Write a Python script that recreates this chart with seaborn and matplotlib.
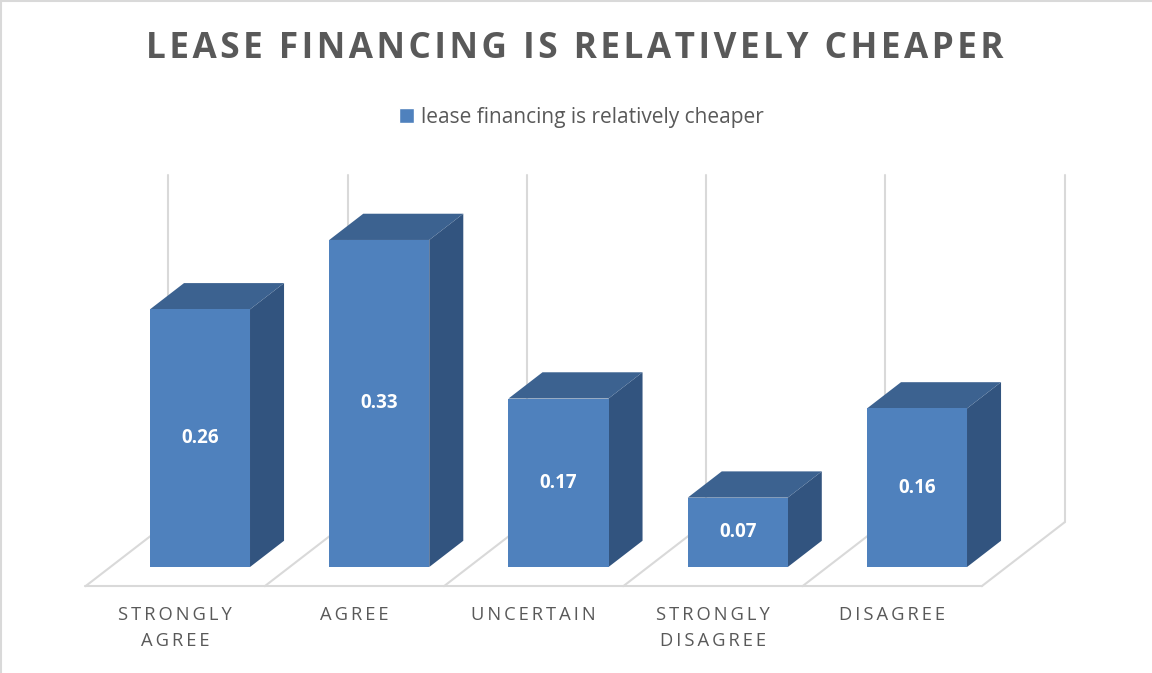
import matplotlib
matplotlib.use("Agg")
import matplotlib.pyplot as plt
from matplotlib.patches import Polygon, Patch
from matplotlib.lines import Line2D
import seaborn as sns

# data
categories = ["STRONGLY\nAGREE", "AGREE", "UNCERTAIN", "STRONGLY\nDISAGREE", "DISAGREE"]
values = [0.26, 0.33, 0.17, 0.07, 0.16]
series_name = "lease financing is relatively cheaper"
title = "LEASE FINANCING IS RELATIVELY CHEAPER"

front_col = "#4F81BD"
top_col = "#3C6290"
side_col = "#32547F"
grid_col = "#D9D9D9"
text_col = "#595959"

sns.set_theme(style="white")
plt.rcParams["font.family"] = ["Open Sans", "DejaVu Sans"]


def spaced(s, sep="\u2009"):
    # fake letter spacing with thin spaces
    return "\n".join(sep.join(line) for line in s.split("\n"))


fig = plt.figure(figsize=(11.52, 6.73), dpi=100)
ax = fig.add_axes([0, 0, 1, 1])

df = {"cat": categories, "val": values}
sns.barplot(x="cat", y="val", data=df, color=front_col, saturation=1,
            width=0.558, ax=ax, zorder=3, linewidth=0)

# fake 3d geometry (depth vector of the floor, bars sit in the middle of it)
dep_x, dep_y = 0.463, 0.0646
f0, f1 = 0.30, 0.71
n = len(categories)

# floor and back wall lines
fx0 = -f0 * dep_x
fy0 = -f0 * dep_y
bounds = [k - 0.5 + fx0 for k in range(n + 1)]
ax.plot([bounds[0], bounds[-1]], [fy0, fy0], color=grid_col, lw=1.5, zorder=0)
for b in bounds:
    ax.plot([b, b + dep_x], [fy0, fy0 + dep_y], color=grid_col, lw=1.5, zorder=0)
    ax.plot([b + dep_x, b + dep_x], [fy0 + dep_y, 0.3956], color=grid_col, lw=1.5, zorder=0)

# tops and sides of the bars
sx, sy = (f1 - f0) * dep_x, (f1 - f0) * dep_y
for p, v in zip(ax.patches, values):
    x0 = p.get_x()
    w = p.get_width()
    h = p.get_height()
    side = Polygon([(x0 + w, 0), (x0 + w + sx, sy), (x0 + w + sx, h + sy), (x0 + w, h)],
                   closed=True, facecolor=side_col, edgecolor="none", zorder=2)
    top = Polygon([(x0, h), (x0 + sx, h + sy), (x0 + w + sx, h + sy), (x0 + w, h)],
                  closed=True, facecolor=top_col, edgecolor="none", zorder=2)
    ax.add_patch(side)
    ax.add_patch(top)
    ax.text(x0 + w / 2, h / 2, f"{v:.2f}", color="white", ha="center", va="center",
            fontsize=13.5, fontweight="bold", zorder=4)

# category labels
for i, c in enumerate(categories):
    ax.text(i + fx0, -0.039, spaced(c), ha="center", va="top", color=text_col,
            fontsize=13.2, linespacing=1.6)

ax.set_xlim(-200 / 179.25, (1152 - 200) / 179.25)
ax.set_ylim(-(673 - 567) / 991, 567 / 991)
ax.axis("off")

fig.text(575 / 1152, 1 - 49 / 673, spaced(title, "\u200a"), ha="center", va="center",
         fontsize=25.3, fontweight="bold", color=text_col)

fig.legend(handles=[Patch(facecolor=front_col, label=series_name)], loc="center",
           bbox_to_anchor=(581 / 1152, 1 - 117 / 673), frameon=False,
           handlelength=0.75, handleheight=0.75, handletextpad=0.3,
           fontsize=15, labelcolor=text_col)

# chart area border
fig.add_artist(Line2D([0, 1], [0.998, 0.998], color=grid_col, lw=1.5))
fig.add_artist(Line2D([0.001, 0.001], [0, 1], color=grid_col, lw=1.5))

fig.savefig("out.png", dpi=100)
